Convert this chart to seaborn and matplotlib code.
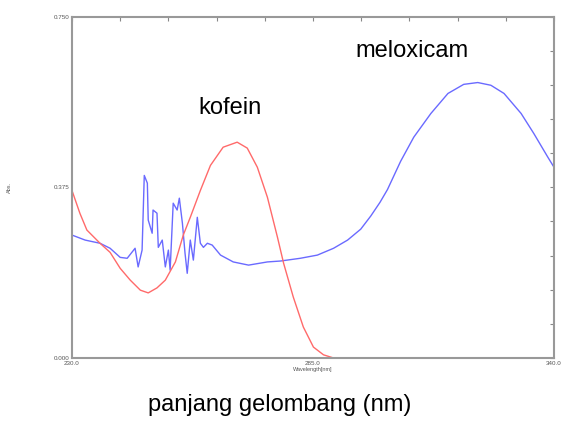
import numpy as np
import pandas as pd

import matplotlib
matplotlib.use("Agg")
import matplotlib.pyplot as plt
import seaborn as sns

# =====================================================
# STYLE
# =====================================================
sns.set_style("white")
plt.rcParams["font.family"] = ["Liberation Sans", "DejaVu Sans"]

# =====================================================
# DATA
# =====================================================
kofein_nm = [230.0, 231.8, 233.4, 236.4, 238.7, 241.0, 243.3, 245.6, 247.4,
             249.4, 251.3, 253.6, 255.4, 257.0, 259.3, 261.6, 264.5, 267.7,
             270.0, 272.3, 274.6, 276.9, 278.3, 280.5, 282.8, 285.1, 287.4,
             289.7, 292.0]
kofein_abs = [0.368, 0.318, 0.281, 0.252, 0.232, 0.197, 0.171, 0.149, 0.143,
              0.154, 0.171, 0.211, 0.270, 0.309, 0.368, 0.423, 0.463, 0.474,
              0.461, 0.419, 0.353, 0.265, 0.208, 0.134, 0.068, 0.024, 0.007,
              0.000, 0.000]

meloxicam_nm = [230.0, 233.0, 236.4, 238.7, 241.0, 242.6, 244.4, 245.1, 246.0,
                246.5, 247.2, 247.4, 248.3, 248.5, 249.4, 249.7, 250.6, 251.3,
                252.0, 252.4, 253.1, 254.0, 254.5, 255.2, 255.8, 256.3, 257.0,
                257.7, 258.6, 259.3, 260.0, 260.9, 262.0, 263.9, 266.8, 270.3,
                274.6, 277.6, 282.1, 286.0, 289.7, 292.9, 295.9, 298.2, 300.3,
                302.0, 305.0, 308.0, 311.9, 315.8, 319.4, 322.6, 325.6, 328.6,
                332.5, 335.4, 338.6, 340.0]
meloxicam_abs = [0.270, 0.259, 0.252, 0.241, 0.221, 0.219, 0.241, 0.200, 0.237,
                 0.401, 0.384, 0.303, 0.274, 0.325, 0.318, 0.243, 0.259, 0.200,
                 0.237, 0.193, 0.340, 0.325, 0.351, 0.296, 0.230, 0.186, 0.259,
                 0.215, 0.309, 0.252, 0.243, 0.252, 0.248, 0.226, 0.211, 0.204,
                 0.211, 0.213, 0.219, 0.226, 0.241, 0.259, 0.283, 0.312, 0.342,
                 0.370, 0.432, 0.485, 0.537, 0.581, 0.601, 0.605, 0.599, 0.581,
                 0.537, 0.493, 0.441, 0.419]

x_tick_labels = ["230.0", "285.0", "340.0"]
y_tick_labels = ["0.000", "0.375", "0.750"]

df_k = pd.DataFrame({"nm": kofein_nm, "abs": kofein_abs})
df_m = pd.DataFrame({"nm": meloxicam_nm, "abs": meloxicam_abs})

# =====================================================
# FIGURE
# =====================================================
fig = plt.figure(figsize=(5.61, 4.29), dpi=100)
ax = fig.add_axes([0.1283, 0.1655, 0.8592, 0.796])

sns.lineplot(data=df_m, x="nm", y="abs", ax=ax, color="#6a6aff",
             linewidth=1.0, sort=False, estimator=None)
sns.lineplot(data=df_k, x="nm", y="abs", ax=ax, color="#ff6a6a",
             linewidth=1.0, sort=False, estimator=None)

ax.set_xlim(230, 340)
ax.set_ylim(0, 0.75)

ax.set_xticks(np.linspace(230, 340, 11))
ax.set_xticklabels([x_tick_labels[i // 5] if i % 5 == 0 else ""
                    for i in range(11)])
ax.set_yticks(np.linspace(0, 0.75, 11))
ax.set_yticklabels([y_tick_labels[i // 5] if i % 5 == 0 else ""
                    for i in range(11)])

ax.tick_params(direction="in", length=3, width=0.8, color="#888888",
               labelsize=4.5, labelcolor="#555555", top=True, right=True,
               pad=2)

for s in ax.spines.values():
    s.set_color("#999999")
    s.set_linewidth(1.5)

ax.set_xlabel("Wavelength[nm]", fontsize=4, color="#555555", labelpad=1)
ax.set_ylabel("Abs.", fontsize=4, color="#555555", labelpad=30)

ax.text(0.705, 0.90, "meloxicam", transform=ax.transAxes,
        fontsize=17, ha="center", va="center", color="black")
ax.text(0.328, 0.731, "kofein", transform=ax.transAxes,
        fontsize=17, ha="center", va="center", color="black")

fig.text(0.499, 0.056, "panjang gelombang (nm)", fontsize=17,
         ha="center", va="center", color="black")

plt.savefig("out.png", dpi=100)
plt.close()
